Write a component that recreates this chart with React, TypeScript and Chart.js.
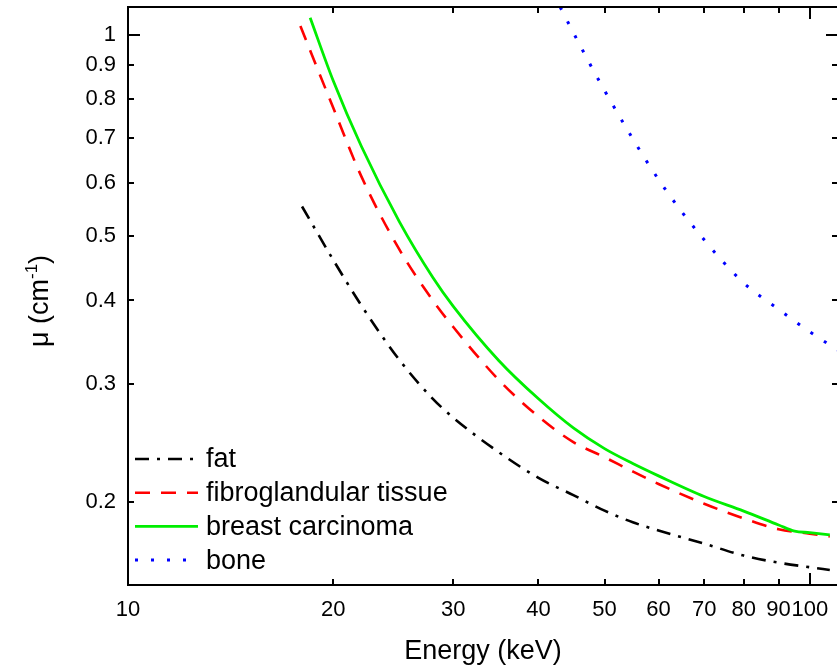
import React, { useEffect, useRef } from 'react';
import { Chart, registerables } from 'chart.js';

Chart.register(...registerables);

const FONT = "'Liberation Sans', Arial, Helvetica, sans-serif";

const fatEnergy = [18, 20, 22, 25, 28, 30, 35, 40, 45, 50, 55, 60, 70, 80, 90, 100, 107];
const fatMu = [0.553, 0.46, 0.393, 0.326, 0.285, 0.267, 0.237, 0.217, 0.2045, 0.1938, 0.1862, 0.181, 0.173, 0.166, 0.162, 0.1595, 0.158];

const fibroEnergy = [17.9, 20, 22, 25, 28, 30, 35, 40, 45, 50, 55, 60, 70, 80, 90, 100, 107];
const fibroMu = [1.03, 0.777, 0.613, 0.477, 0.4, 0.365, 0.304, 0.268, 0.2455, 0.233, 0.2218, 0.2125, 0.1985, 0.1887, 0.1818, 0.179, 0.1773];

const carcinomaEnergy = [18.5, 20, 22, 25, 28, 30, 35, 40, 45, 50, 55, 60, 70, 80, 90, 95, 100, 107];
const carcinomaMu = [1.06, 0.853, 0.68, 0.525, 0.433, 0.392, 0.325, 0.285, 0.2578, 0.24, 0.228, 0.2185, 0.2035, 0.1935, 0.1845, 0.1806, 0.1797, 0.1783];

const boneEnergy = [40, 45, 50, 60, 70, 80, 90, 100, 110];
const boneMu = [1.275, 1.007, 0.825, 0.607, 0.493, 0.425, 0.388, 0.359, 0.337];

const xTicks = [10, 20, 30, 40, 50, 60, 70, 80, 90, 100];
const yTicks = [0.2, 0.3, 0.4, 0.5, 0.6, 0.7, 0.8, 0.9, 1];
const xMajor = [10, 100];
const yMajor = [1];

const seriesNames = ['fat', 'fibroglandular tissue', 'breast carcinoma', 'bone'];

const toPts = (xs: number[], ys: number[]) => xs.map((x, i) => ({ x, y: ys[i] }));

const styles = [
  { color: '#000000', width: 2.6, dash: [14, 8, 3, 8] },
  { color: '#ff0000', width: 2.6, dash: [15, 11] },
  { color: '#00ee00', width: 2.8, dash: [] as number[] },
  { color: '#0000ff', width: 3, dash: [3, 13] },
];

const framePlugin = {
  id: 'frame',
  afterDraw(chart: any) {
    const { ctx, chartArea: a, scales } = chart;
    const x = scales.x;
    const y = scales.y;
    ctx.save();
    ctx.strokeStyle = '#000';
    ctx.lineWidth = 2;
    ctx.lineJoin = 'miter';
    ctx.setLineDash([]);
    ctx.strokeRect(a.left, a.top, a.right - a.left, a.bottom - a.top);
    ctx.beginPath();
    xTicks.forEach((v) => {
      const px = Math.round(x.getPixelForValue(v));
      const len = xMajor.includes(v) ? 12 : 6;
      ctx.moveTo(px, a.bottom);
      ctx.lineTo(px, a.bottom - len);
      ctx.moveTo(px, a.top);
      ctx.lineTo(px, a.top + len);
    });
    yTicks.forEach((v) => {
      const py = Math.round(y.getPixelForValue(v));
      const len = yMajor.includes(v) ? 12 : 6;
      ctx.moveTo(a.left, py);
      ctx.lineTo(a.left + len, py);
      ctx.moveTo(a.right, py);
      ctx.lineTo(a.right - len, py);
    });
    ctx.stroke();

    // legend
    const rowStart = a.bottom - 126;
    const step = 33.7;
    ctx.font = `27px ${FONT}`;
    ctx.textBaseline = 'middle';
    ctx.textAlign = 'left';
    seriesNames.forEach((name, i) => {
      const s = styles[i];
      const cy = rowStart + i * step;
      ctx.beginPath();
      ctx.strokeStyle = s.color;
      ctx.lineWidth = s.width;
      ctx.setLineDash(s.dash);
      ctx.moveTo(a.left + 7, cy);
      ctx.lineTo(a.left + 70, cy);
      ctx.stroke();
      ctx.setLineDash([]);
      ctx.fillStyle = '#000';
      ctx.fillText(name, a.left + 78, cy + 1);
    });

    // y axis title with superscript
    ctx.translate(38, (a.top + a.bottom) / 2 + 5);
    ctx.rotate(-Math.PI / 2);
    const big = `27px ${FONT}`;
    const small = `17px ${FONT}`;
    const p1 = 'μ (cm';
    const p2 = '-1';
    const p3 = ')';
    ctx.font = big;
    const w1 = ctx.measureText(p1).width;
    const w3 = ctx.measureText(p3).width;
    ctx.font = small;
    const w2 = ctx.measureText(p2).width;
    const total = w1 + w2 + w3;
    let cx = -total / 2;
    ctx.fillStyle = '#000';
    ctx.textBaseline = 'alphabetic';
    ctx.font = big;
    ctx.fillText(p1, cx, 10);
    cx += w1;
    ctx.font = small;
    ctx.fillText(p2, cx, -1);
    cx += w2;
    ctx.font = big;
    ctx.fillText(p3, cx, 10);
    ctx.restore();
  },
};

export default function App() {
  const ref = useRef<HTMLCanvasElement>(null);
  useEffect(() => {
    const datasets = [
      { data: toPts(fatEnergy, fatMu), order: 2 },
      { data: toPts(fibroEnergy, fibroMu), order: 1 },
      { data: toPts(carcinomaEnergy, carcinomaMu), order: 0 },
      { data: toPts(boneEnergy, boneMu), order: 3 },
    ].map((d, i) => ({
      label: seriesNames[i],
      data: d.data,
      order: d.order,
      borderColor: styles[i].color,
      backgroundColor: styles[i].color,
      borderWidth: styles[i].width,
      borderDash: styles[i].dash,
      pointRadius: 0,
      fill: false,
      cubicInterpolationMode: 'monotone' as const,
      clip: 0,
    }));
    const tickFont = { family: FONT, size: 22 };
    const chart = new Chart(ref.current as HTMLCanvasElement, {
      type: 'line',
      data: { datasets },
      plugins: [framePlugin],
      options: {
        responsive: false,
        animation: false,
        devicePixelRatio: 1,
        layout: { padding: { top: 7, right: 8, left: 0, bottom: 0 } },
        plugins: { legend: { display: false }, tooltip: { enabled: false } },
        scales: {
          x: {
            type: 'logarithmic',
            min: 10,
            max: 110,
            grid: { display: false, drawTicks: false },
            border: { display: false },
            ticks: {
              autoSkip: false,
              maxRotation: 0,
              padding: 12,
              color: '#000',
              font: tickFont,
              callback: (v: any) => String(v),
            },
            afterBuildTicks: (s: any) => {
              s.ticks = xTicks.map((v) => ({ value: v }));
            },
            afterFit: (s: any) => {
              s.height = 85;
              s.paddingLeft = 0;
              s.paddingRight = 0;
            },
            title: {
              display: true,
              text: 'Energy (keV)',
              color: '#000',
              font: { family: FONT, size: 27 },
              padding: { top: 0, bottom: 2 },
            },
          },
          y: {
            type: 'logarithmic',
            min: 0.15,
            max: 1.1,
            grid: { display: false, drawTicks: false },
            border: { display: false },
            ticks: {
              autoSkip: false,
              padding: 12,
              color: '#000',
              font: tickFont,
              callback: (v: any) => String(v),
            },
            afterBuildTicks: (s: any) => {
              s.ticks = yTicks.map((v) => ({ value: v }));
            },
            afterFit: (s: any) => {
              s.width = 128;
              s.paddingTop = 0;
              s.paddingBottom = 0;
            },
          },
        },
      } as any,
    });
    return () => chart.destroy();
  }, []);
  return (
    <div
      style={{
        position: 'absolute',
        left: 0,
        top: 0,
        width: 837,
        height: 670,
        overflow: 'hidden',
        background: '#fff',
      }}
    >
      <canvas ref={ref} width={846} height={670} style={{ display: 'block', width: 846, height: 670 }} />
    </div>
  );
}
